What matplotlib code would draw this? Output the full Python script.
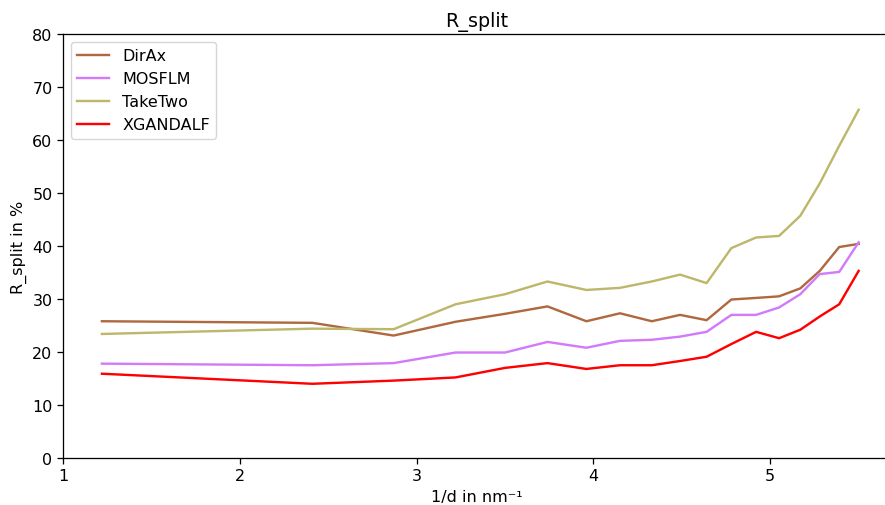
import matplotlib
matplotlib.use('Agg')
import matplotlib.pyplot as plt

# 1/d shell centres (nm^-1)
inv_d = [1.22, 2.41, 2.87, 3.22, 3.50, 3.74, 3.96, 4.15, 4.33, 4.49,
         4.64, 4.78, 4.92, 5.05, 5.17, 5.28, 5.39, 5.50]

# R_split per indexer (%)
dirax = [25.8, 25.5, 23.1, 25.7, 27.2, 28.6, 25.8, 27.3, 25.8, 27.0,
         26.0, 29.9, 30.2, 30.5, 32.0, 35.3, 39.8, 40.4]
mosflm = [17.8, 17.5, 17.9, 19.9, 19.9, 21.9, 20.8, 22.1, 22.3, 22.9,
          23.8, 27.0, 27.0, 28.4, 30.9, 34.7, 35.1, 40.7]
taketwo = [23.4, 24.4, 24.3, 29.0, 30.9, 33.3, 31.7, 32.1, 33.3, 34.6,
           33.0, 39.6, 41.6, 41.9, 45.7, 51.8, 58.9, 65.7]
xgandalf = [15.9, 14.0, 14.6, 15.2, 17.0, 17.9, 16.8, 17.5, 17.5, 18.3,
            19.1, 21.5, 23.8, 22.6, 24.2, 26.7, 29.0, 35.3]

# everything a bit larger than the defaults (reference was scaled up)
s = 1.15
plt.rcParams.update({
    'font.size': 10 * s,
    'lines.linewidth': 1.5 * s,
    'axes.linewidth': 0.8 * s,
    'xtick.major.size': 3.5 * s,
    'ytick.major.size': 3.5 * s,
    'xtick.major.width': 0.8 * s,
    'ytick.major.width': 0.8 * s,
})

fig = plt.figure(figsize=(8.85, 5.06), dpi=100)
ax = fig.add_axes([0.0712, 0.0929, 0.935, 0.838])

ax.plot(inv_d, dirax, color='#b0683f', label='DirAx')
ax.plot(inv_d, mosflm, color='#d27bfa', label='MOSFLM')
ax.plot(inv_d, taketwo, color='#bdb76b', label='TakeTwo')
ax.plot(inv_d, xgandalf, color='red', label='XGANDALF')

ax.set_xlim(1.0, 5.68)
ax.set_ylim(0, 80)
ax.set_xticks([1, 2, 3, 4, 5])
ax.set_yticks(range(0, 81, 10))
ax.set_title('R_split')
ax.set_xlabel('1/d in nm\u207b\u00b9')
ax.set_ylabel('R_split in %')
ax.legend(loc='upper left')

fig.savefig('out.png', dpi=100)
